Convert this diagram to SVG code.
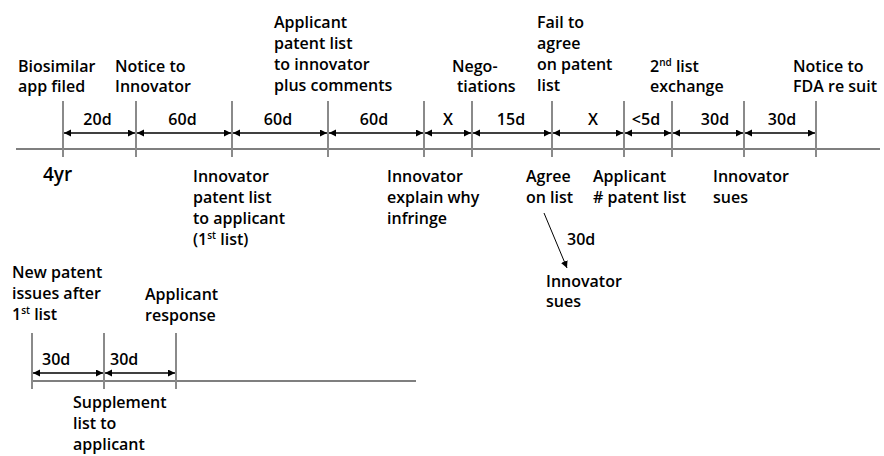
<svg xmlns="http://www.w3.org/2000/svg" width="884" height="456" viewBox="0 0 884 456">
<style>
text{font-family:"Open Sans","Liberation Sans",sans-serif;font-weight:600;font-size:16px;fill:#000}
.mid{text-anchor:middle}
.big{font-size:19px}
.sup{font-size:10px}
.tick{stroke:#8a8a8a;stroke-width:2}
.axis{stroke:#000;stroke-width:1.2}
.arr{stroke:#000;stroke-width:1.3;marker-start:url(#ah);marker-end:url(#ah)}
.one{stroke:#000;stroke-width:1;marker-end:url(#ah)}
</style>
<defs>
<marker id="ah" markerUnits="userSpaceOnUse" markerWidth="8" markerHeight="8" refX="7" refY="3.5" orient="auto-start-reverse">
<path d="M0,0 L7,3.5 L0,7 z" fill="#000"/>
</marker>
</defs>
<rect width="884" height="456" fill="#fff"/>

<g id="connectors">
<line class="axis" x1="16" y1="149" x2="880" y2="149"/>
<g id="ticks">
<line class="tick" x1="63" y1="101" x2="63" y2="157"/>
<line class="tick" x1="136" y1="101" x2="136" y2="157"/>
<line class="tick" x1="232" y1="101" x2="232" y2="157"/>
<line class="tick" x1="328" y1="101" x2="328" y2="157"/>
<line class="tick" x1="424" y1="101" x2="424" y2="157"/>
<line class="tick" x1="472" y1="101" x2="472" y2="157"/>
<line class="tick" x1="552" y1="101" x2="552" y2="157"/>
<line class="tick" x1="624" y1="101" x2="624" y2="157"/>
<line class="tick" x1="672" y1="101" x2="672" y2="157"/>
<line class="tick" x1="744" y1="101" x2="744" y2="157"/>
<line class="tick" x1="816" y1="101" x2="816" y2="157"/>
</g>
<g id="spans">
<line class="arr" x1="64" y1="133" x2="135" y2="133"/>
<line class="arr" x1="137" y1="133" x2="231" y2="133"/>
<line class="arr" x1="233" y1="133" x2="327" y2="133"/>
<line class="arr" x1="329" y1="133" x2="423" y2="133"/>
<line class="arr" x1="425" y1="133" x2="471" y2="133"/>
<line class="arr" x1="473" y1="133" x2="551" y2="133"/>
<line class="arr" x1="553" y1="133" x2="623" y2="133"/>
<line class="arr" x1="625" y1="133" x2="671" y2="133"/>
<line class="arr" x1="673" y1="133" x2="743" y2="133"/>
<line class="arr" x1="745" y1="133" x2="815" y2="133"/>
</g>
<line class="one" x1="544" y1="213" x2="567" y2="268"/>
<g id="timeline2">
<line class="axis" x1="32" y1="381" x2="416" y2="381"/>
<line class="tick" x1="32" y1="333" x2="32" y2="389"/>
<line class="tick" x1="104" y1="333" x2="104" y2="389"/>
<line class="tick" x1="176" y1="333" x2="176" y2="389"/>
<line class="arr" x1="33" y1="373" x2="103" y2="373"/>
<line class="arr" x1="105" y1="373" x2="175" y2="373"/>
</g>
</g>

<g id="span-labels">
<text class="mid" x="97.5" y="125">20d</text>
<text class="mid" x="182.5" y="125">60d</text>
<text class="mid" x="278" y="125">60d</text>
<text class="mid" x="374" y="125">60d</text>
<text class="mid" x="448" y="125">X</text>
<text class="mid" x="511" y="125">15d</text>
<text class="mid" x="593" y="125">X</text>
<text class="mid" x="646" y="125">&lt;5d</text>
<text class="mid" x="715" y="125">30d</text>
<text class="mid" x="782" y="125">30d</text>
<text x="42" y="365">30d</text>
<text x="110" y="365">30d</text>
<text x="567" y="245">30d</text>
</g>

<g id="biosimilar"><text x="18" y="72">Biosimilar</text><text x="18" y="92">app filed</text></g>
<g id="notice-innovator"><text x="115" y="72">Notice to</text><text x="115" y="92">Innovator</text></g>
<g id="applicant-list"><text x="274" y="28">Applicant</text><text x="274" y="49">patent list</text><text x="274" y="70">to innovator</text><text x="274" y="91">plus comments</text></g>
<g id="negotiations"><text x="452" y="72">Nego-</text><text x="457" y="92">tiations</text></g>
<g id="fail-agree"><text x="537" y="28">Fail to</text><text x="537" y="49">agree</text><text x="537" y="70">on patent</text><text x="537" y="91">list</text></g>
<g id="second-list"><text x="650" y="72">2<tspan class="sup" dy="-6">nd</tspan><tspan dy="6"> list</tspan></text><text x="650" y="92">exchange</text></g>
<g id="notice-fda"><text x="793" y="72">Notice to</text><text x="793" y="92">FDA re suit</text></g>

<g id="four-yr"><text class="big" x="43" y="181">4yr</text></g>
<g id="innovator-list"><text x="193" y="182">Innovator</text><text x="193" y="203">patent list</text><text x="193" y="224">to applicant</text><text x="193" y="245">(1<tspan class="sup" dy="-6">st</tspan><tspan dy="6"> list)</tspan></text></g>
<g id="innovator-explain"><text x="387" y="182">Innovator</text><text x="387" y="203">explain why</text><text x="387" y="224">infringe</text></g>
<g id="agree-list"><text x="526" y="182">Agree</text><text x="526" y="203">on list</text></g>
<g id="applicant-number"><text x="593" y="182">Applicant</text><text x="593" y="203"># patent list</text></g>
<g id="innovator-sues"><text x="713" y="182">Innovator</text><text x="713" y="203">sues</text></g>
<g id="innovator-sues-2"><text x="546" y="287">Innovator</text><text x="546" y="307">sues</text></g>

<g id="new-patent"><text x="12" y="278">New patent</text><text x="12" y="299">issues after</text><text x="12" y="320">1<tspan class="sup" dy="-6">st</tspan><tspan dy="6"> list</tspan></text></g>
<g id="applicant-response"><text x="145" y="300">Applicant</text><text x="145" y="321">response</text></g>
<g id="supplement"><text x="73" y="408">Supplement</text><text x="73" y="429">list to</text><text x="73" y="450">applicant</text></g>
</svg>
